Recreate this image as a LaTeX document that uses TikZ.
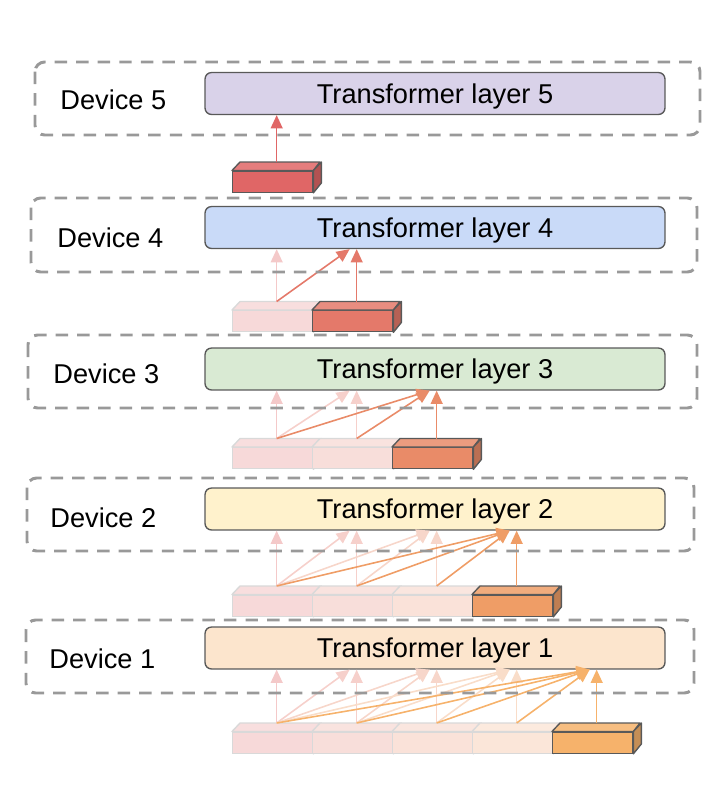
\documentclass[tikz,border=0pt]{standalone}
\usepackage{fontspec}
\setmainfont{Liberation Sans}
\usepackage{tikz}
\usetikzlibrary{arrows.meta}

\definecolor{c1}{HTML}{E06666}
\definecolor{c2}{HTML}{E4796A}
\definecolor{c3}{HTML}{E98B68}
\definecolor{c4}{HTML}{EF9D66}
\definecolor{c5}{HTML}{F6B26B}
\definecolor{lay1}{HTML}{FCE5CD}
\definecolor{lay2}{HTML}{FFF2CC}
\definecolor{lay3}{HTML}{D9EAD3}
\definecolor{lay4}{HTML}{C9DAF8}
\definecolor{lay5}{HTML}{D9D2E9}

\begin{document}
\begin{tikzpicture}[
            x=0.0155cm, y=-0.0155cm,
            font=\fontsize{12}{14}\selectfont,
            layer/.style={draw=black!65, line width=0.6pt, rounded corners=0.1cm,
                minimum width=7.13cm, minimum height=0.65cm, inner sep=0, text depth=0pt},
            devbox/.style={draw=black!40, line width=1.3pt, dash pattern=on 5.5pt off 4pt,
                rounded corners=0.15cm},
            cube/.style={minimum width=1.24cm, minimum height=0.3255cm, inner sep=0,
                anchor=north west, line width=0.6pt},
            link/.style={line width=0.7pt, -{Triangle[length=5.8pt,width=5.2pt]}},
            ]
            \useasboundingbox (0,0) rectangle (717,794);

            % transformer layers and device labels
            \foreach \k/\ly/\tx/\ty in {1/648/49/659, 2/509/50/518, 3/369/53/374,
                                         4/227.5/57/238, 5/93.5/60/100}{
                \node[layer, fill=lay\k] (L\k) at (435,\ly) {Transformer layer \k};
                \node[anchor=west, inner sep=0] (d\k) at (\tx,\ty) {Device \k};
            }

            % token blocks
            \foreach \k/\y in {1/731.5, 2/594.5, 3/447, 4/310, 5/170.5}{
                \pgfmathtruncatemacro\n{6-\k}
                \foreach \j in {1,...,\n}{
                    \ifnum\j=\n
                        \colorlet{fc}{c\j}\colorlet{lc}{black!65}
                    \else
                        \colorlet{fc}{c\j!25}\colorlet{lc}{black!15}
                    \fi
                    \node[cube, fill=fc, draw=lc] (b\k\j) at ({232+80*(\j-1)},\y) {};
                    \filldraw[fill=fc!85!white, draw=lc, line width=0.6pt, line join=round]
                        (b\k\j.north west) -- ++(8,-8.5) -- ++(80,0) -- (b\k\j.north east) -- cycle;
                    \filldraw[fill=fc!80!black, draw=lc, line width=0.6pt, line join=round]
                        (b\k\j.north east) -- ++(8,-8.5) -- ++(0,21) -- (b\k\j.south east) -- cycle;
                    \path (b\k\j.north) ++(4,-8.5) coordinate (s\k\j);
                    \path (s\k\j |- L\k.south) coordinate (t\k\j) ++(-7,0) coordinate (u\k\j);
                }
            }

            % attention arrows
            \foreach \k in {1,...,5}{
                \pgfmathtruncatemacro\n{6-\k}
                \ifnum\n>1
                    \pgfmathtruncatemacro\m{\n-1}
                    \foreach \i in {1,...,\m}{
                        \draw[link, c\i!35] (s\k\i) -- (t\k\i);
                        \foreach \j in {1,...,\i}{
                            \ifnum\j<\i \draw[link, c\i!35] (s\k\j) -- (u\k\i); \fi
                        }
                    }
                \fi
                \foreach \j in {1,...,\n}{
                    \ifnum\j<\n
                        \draw[link, c\n] (s\k\j) -- (u\k\n);
                    \else
                        \draw[link, c\n] (s\k\j) -- (t\k\n);
                    \fi
                }
            }

            % devices
            \draw[devbox] (26,620) rectangle (694,693);
            \draw[devbox] (27,478) rectangle (694,551);
            \draw[devbox] (28,335) rectangle (697,408);
            \draw[devbox] (31,198) rectangle (697,272);
            \draw[devbox] (35,62) rectangle (700,135);
        \end{tikzpicture}
\end{document}
